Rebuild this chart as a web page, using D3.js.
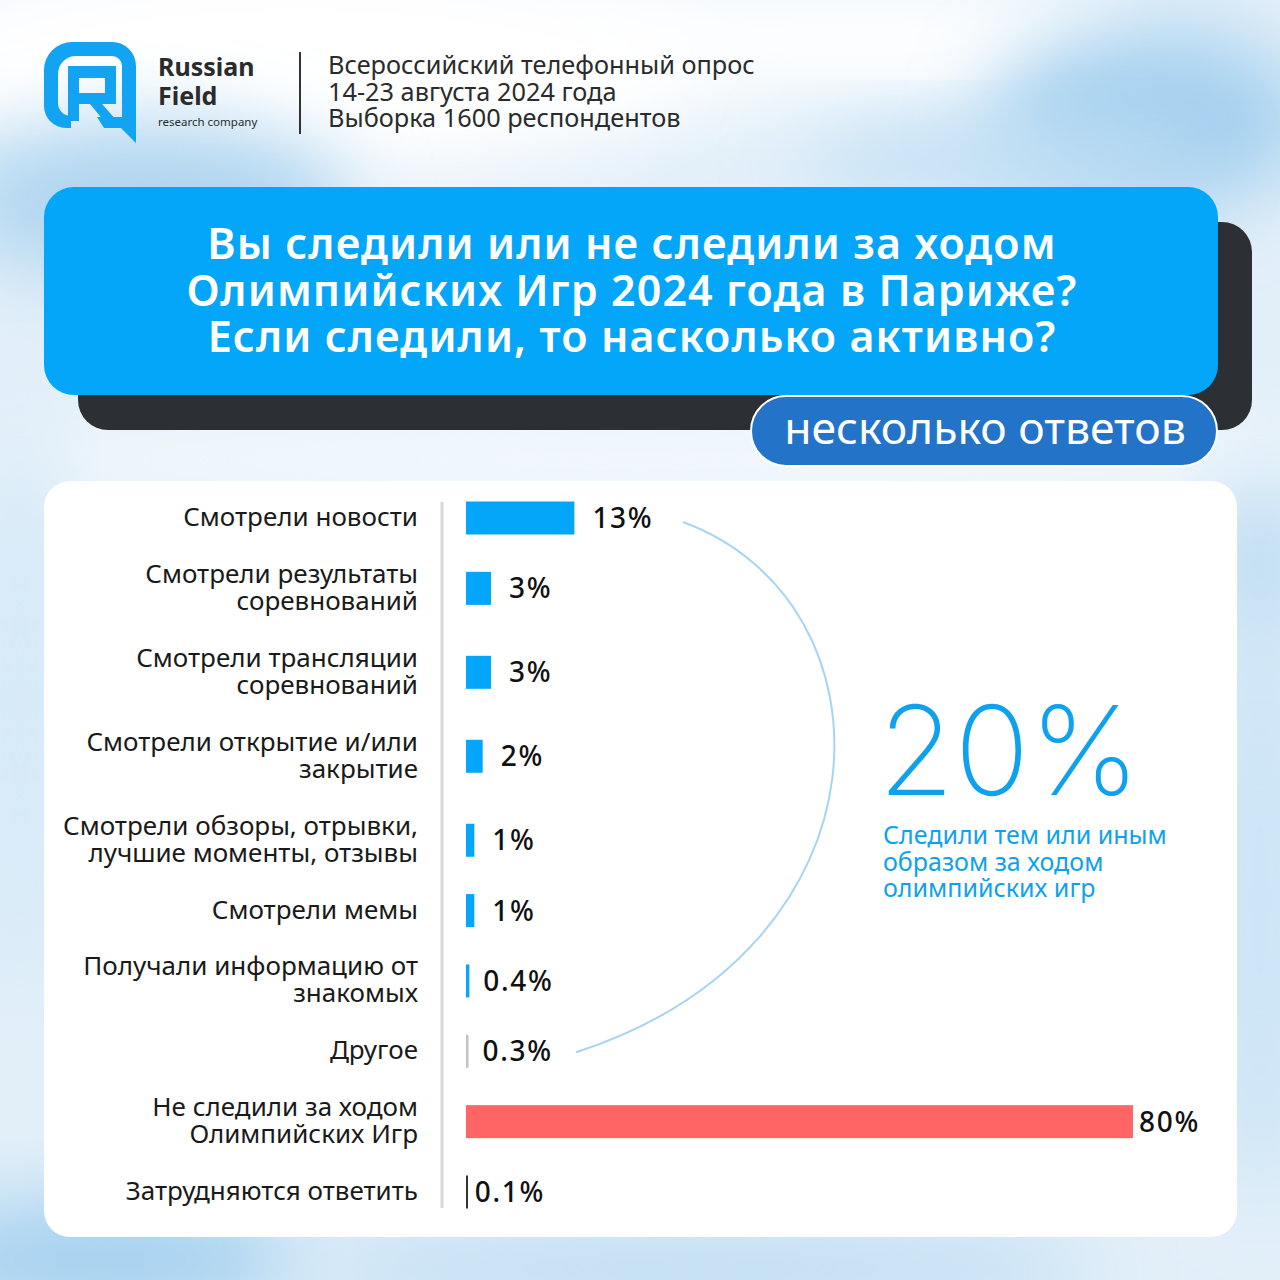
<!DOCTYPE html>
<html>
<head>
<meta charset="utf-8">
<script src="https://cdn.jsdelivr.net/npm/d3@7"></script>
<style>
  html, body { margin: 0; padding: 0; background: #eaf3fa; }
  svg { display: block; }
</style>
</head>
<body>
<svg id="chart" width="1280" height="1280"></svg>
<script>
// ответы (строки подписи)
var categories = [
    ["Смотрели новости"],
    ["Смотрели результаты", "соревнований"],
    ["Смотрели трансляции", "соревнований"],
    ["Смотрели открытие и/или", "закрытие"],
    ["Смотрели обзоры, отрывки,", "лучшие моменты, отзывы"],
    ["Смотрели мемы"],
    ["Получали информацию от", "знакомых"],
    ["Другое"],
    ["Не следили за ходом", "Олимпийских Игр"],
    ["Затрудняются ответить"]
];
var values = [13, 3, 3, 2, 1, 1, 0.4, 0.3, 80, 0.1];
var valueLabels = ["13%", "3%", "3%", "2%", "1%", "1%", "0.4%", "0.3%", "80%", "0.1%"];
var groups = ["followed", "followed", "followed", "followed", "followed", "followed", "followed", "other", "not", "unsure"];

var headerLines = ["Всероссийский телефонный опрос", "14-23 августа 2024 года", "Выборка 1600 респондентов"];
var titleLines = ["Вы следили или не следили за ходом", "Олимпийских Игр 2024 года в Париже?", "Если  следили, то насколько активно?"];
var badgeText = "несколько ответов";
var totalFollowed = "20%";
var totalLines = ["Следили тем или иным", "образом за  ходом", "олимпийских игр"];

var FONT = "'Noto Sans', 'Open Sans', sans-serif";

var svg = d3.select("#chart");
var defs = svg.append("defs");

// размытый фон
var blur = defs.append("filter").attr("id", "blur")
    .attr("x", "-50%").attr("y", "-50%").attr("width", "200%").attr("height", "200%");
blur.append("feGaussianBlur").attr("stdDeviation", 40);

var bg = svg.append("g");
bg.append("rect").attr("width", 1280).attr("height", 1280).attr("fill", "#e2eff9");
var blobs = [
    [300, 60, 420, 120, "#ffffff"], [850, 40, 300, 60, "#ffffff"], [1150, 120, 160, 90, "#a4d0ef"],
    [1000, 160, 200, 40, "#c0dff4"], [150, 200, 200, 80, "#b0d6f0"], [640, 460, 700, 50, "#f4f9fd"],
    [100, 1260, 200, 60, "#a4d0ef"], [700, 1270, 400, 40, "#bcdcf3"], [1260, 900, 60, 300, "#cbe4f6"],
    [20, 700, 40, 300, "#d3e8f7"], [1260, 560, 40, 80, "#b6d9f2"]
];
bg.selectAll("ellipse").data(blobs).join("ellipse")
    .attr("cx", d => d[0]).attr("cy", d => d[1])
    .attr("rx", d => d[2]).attr("ry", d => d[3])
    .attr("fill", d => d[4]).attr("filter", "url(#blur)");

// логотип
var logo = svg.append("g").attr("fill", "#12a4f2");
logo.append("path")
    .attr("d", "M72,42 H112 A24,24 0 0 1 136,66 V143 L121,128 H104 L97,117 H122 V66 A10,10 0 0 0 112,56 H76 A18,18 0 0 0 58,74 V103 A13,13 0 0 0 71,116 V128 H66 A22,22 0 0 1 44,106 V70 A28,28 0 0 1 72,42 Z");
logo.append("path")
    .attr("d", "M68,66 H116 V104 H102 L118,122 H105 L90,104 H79 V121 H68 Z M79,78 V93 H105 V78 Z");

var brand = svg.append("g").attr("fill", "#2b2b2b").style("font-family", FONT);
brand.append("text").attr("x", 158).attr("y", 76).attr("font-size", 25).attr("font-weight", 700).text("Russian");
brand.append("text").attr("x", 158).attr("y", 105).attr("font-size", 25).attr("font-weight", 700).text("Field");
brand.append("text").attr("x", 158).attr("y", 126).attr("font-size", 11.5).text("research company");

svg.append("line").attr("x1", 300).attr("x2", 300).attr("y1", 52).attr("y2", 134)
    .attr("stroke", "#333").attr("stroke-width", 2);

svg.append("g").selectAll("text").data(headerLines).join("text")
    .attr("x", 328).attr("y", (d, i) => 74 + i * 26.5)
    .attr("font-size", 25.3).attr("fill", "#2b2b2b").style("font-family", FONT)
    .text(d => d);

// заголовок
svg.append("rect").attr("x", 78).attr("y", 222).attr("width", 1174).attr("height", 208)
    .attr("rx", 30).attr("fill", "#2c3034");
svg.append("rect").attr("x", 44).attr("y", 187).attr("width", 1174).attr("height", 208)
    .attr("rx", 30).attr("fill", "#03a6f8");
svg.append("g").selectAll("text").data(titleLines).join("text")
    .attr("x", 632).attr("y", (d, i) => 259 + i * 46.5)
    .attr("text-anchor", "middle").attr("font-size", 43).attr("font-weight", 600)
    .attr("letter-spacing", 1.1)
    .attr("fill", "#ffffff").style("font-family", FONT)
    .text(d => d);

svg.append("rect").attr("x", 751).attr("y", 396).attr("width", 466).attr("height", 70)
    .attr("rx", 35).attr("fill", "#2374c8").attr("stroke", "#ffffff").attr("stroke-width", 2);
svg.append("text").attr("x", 985).attr("y", 444).attr("text-anchor", "middle")
    .attr("font-size", 44.5).attr("fill", "#ffffff").style("font-family", FONT).text(badgeText);

// белая панель
svg.append("rect").attr("x", 44).attr("y", 481).attr("width", 1193).attr("height", 756)
    .attr("rx", 26).attr("fill", "#ffffff");

// шкалы
var x = d3.scaleLinear().domain([0, 80]).range([466, 1133]);

var weights = categories.map(c => c.length > 1 ? 1.48 : 1);
var centers = [];
var acc = 0;
weights.forEach(function (w) { centers.push(acc + w / 2); acc += w; });
var y = d3.scaleLinear().domain([centers[0], centers[centers.length - 1]]).range([518, 1192]);

var color = d3.scaleOrdinal()
    .domain(["followed", "other", "not", "unsure"])
    .range(["#03a6f8", "#c4c4c4", "#ff6565", "#333333"]);

var barH = 33;

svg.append("line").attr("x1", 442).attr("x2", 442).attr("y1", 502).attr("y2", 1208)
    .attr("stroke", "#d8d8d8").attr("stroke-width", 3);

var rows = svg.append("g").selectAll("g").data(values).join("g")
    .attr("transform", (d, i) => "translate(0," + y(centers[i]) + ")");

rows.append("rect")
    .attr("x", x(0))
    .attr("y", -barH / 2)
    .attr("width", d => Math.max(x(d) - x(0), 2))
    .attr("height", barH)
    .attr("fill", (d, i) => color(groups[i]));

rows.append("text")
    .attr("x", d => x(d) + (d < 0.2 ? 8 : d < 0.5 ? 14 : d >= 50 ? 6 : 18))
    .attr("y", 10)
    .attr("font-size", 28).attr("font-weight", 500).attr("letter-spacing", 1.7)
    .attr("fill", "#111").style("font-family", FONT)
    .text((d, i) => valueLabels[i]);

rows.append("text")
    .attr("text-anchor", "end")
    .attr("font-size", 26).attr("fill", "#1a1a1a").style("font-family", FONT)
    .selectAll("tspan").data((d, i) => categories[i].map((t, j, a) => ({ t: t, j: j, n: a.length })))
    .join("tspan")
    .attr("x", 418)
    .attr("y", d => 8 + (d.j - (d.n - 1) / 2) * 27)
    .text(d => d.t);

// дуга от 13% к 0.3%
var y0 = y(centers[0]) + 4, y1 = y(centers[7]) + 1;
var arc = d3.path();
arc.moveTo(683, y0);
arc.bezierCurveTo(900, y0 + 80, 900, y1 - 105, 576, y1);
svg.append("path").attr("d", arc.toString())
    .attr("fill", "none").attr("stroke", "#a6d4f2").attr("stroke-width", 2);

// итог
svg.append("text").attr("x", 878).attr("y", 795)
    .attr("font-size", 124).attr("font-weight", 200).attr("fill", "#0ea2ee")
    .style("font-family", "Inter, Lato, sans-serif").text(totalFollowed);
svg.append("g").selectAll("text").data(totalLines).join("text")
    .attr("x", 883).attr("y", (d, i) => 844 + i * 26.5)
    .attr("font-size", 25).attr("fill", "#0ea2ee").style("font-family", FONT)
    .text(d => d);
</script>
</body>
</html>
